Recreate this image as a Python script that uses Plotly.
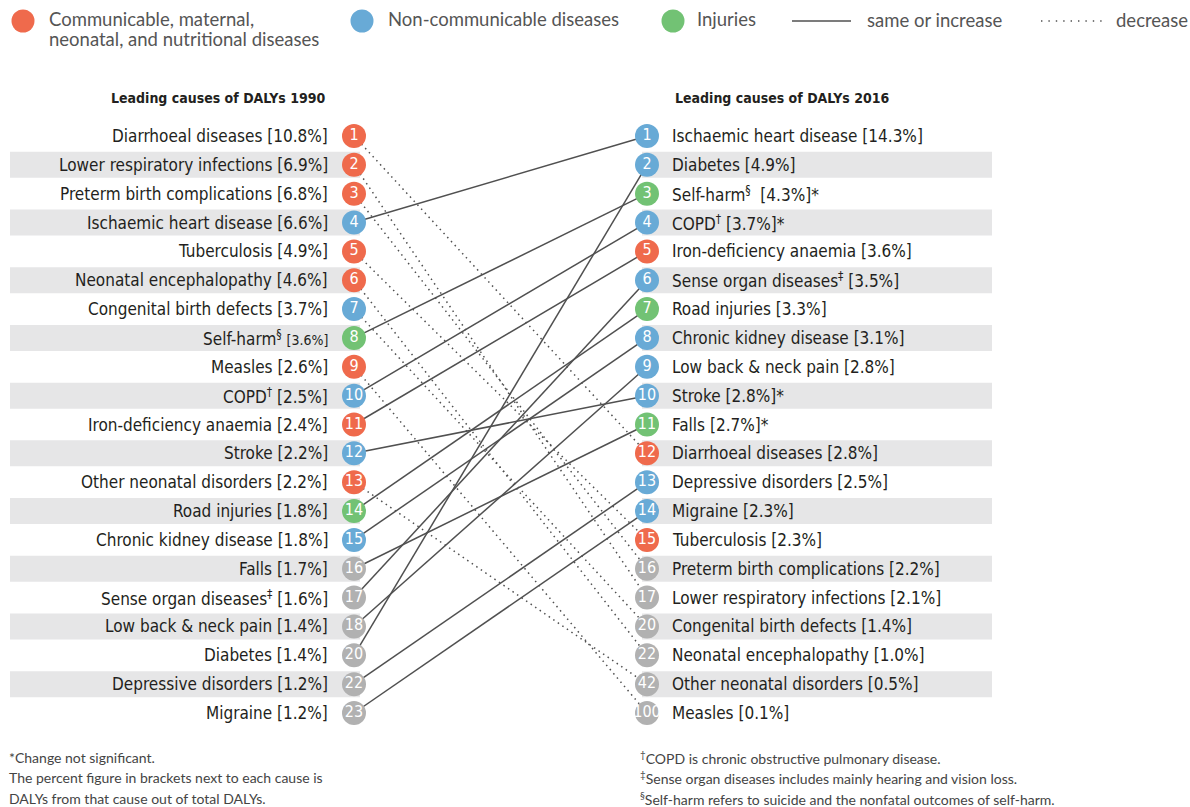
import plotly.graph_objects as go

# ---------------- data ----------------
causes_1990 = ["Diarrhoeal diseases", "Lower respiratory infections", "Preterm birth complications",
               "Ischaemic heart disease", "Tuberculosis", "Neonatal encephalopathy",
               "Congenital birth defects", "Self-harm", "Measles", "COPD",
               "Iron-deficiency anaemia", "Stroke", "Other neonatal disorders", "Road injuries",
               "Chronic kidney disease", "Falls", "Sense organ diseases", "Low back & neck pain",
               "Diabetes", "Depressive disorders", "Migraine"]
pct_1990 = [10.8, 6.9, 6.8, 6.6, 4.9, 4.6, 3.7, 3.6, 2.6, 2.5, 2.4, 2.2, 2.2, 1.8, 1.8, 1.7,
            1.6, 1.4, 1.4, 1.2, 1.2]
rank_1990 = [1, 2, 3, 4, 5, 6, 7, 8, 9, 10, 11, 12, 13, 14, 15, 16, 17, 18, 20, 22, 23]
group_1990 = ["C", "C", "C", "N", "C", "C", "N", "I", "C", "N", "C", "N", "C", "I", "N",
              "I", "N", "N", "N", "N", "N"]

causes_2016 = ["Ischaemic heart disease", "Diabetes", "Self-harm", "COPD", "Iron-deficiency anaemia",
               "Sense organ diseases", "Road injuries", "Chronic kidney disease",
               "Low back & neck pain", "Stroke", "Falls", "Diarrhoeal diseases",
               "Depressive disorders", "Migraine", "Tuberculosis", "Preterm birth complications",
               "Lower respiratory infections", "Congenital birth defects",
               "Neonatal encephalopathy", "Other neonatal disorders", "Measles"]
pct_2016 = [14.3, 4.9, 4.3, 3.7, 3.6, 3.5, 3.3, 3.1, 2.8, 2.8, 2.7, 2.8, 2.5, 2.3, 2.3, 2.2,
            2.1, 1.4, 1.0, 0.5, 0.1]
rank_2016 = [1, 2, 3, 4, 5, 6, 7, 8, 9, 10, 11, 12, 13, 14, 15, 16, 17, 20, 22, 42, 100]
group_2016 = ["N", "N", "I", "N", "C", "N", "I", "N", "N", "N", "I", "C", "N", "N", "C",
              "C", "C", "N", "C", "C", "C"]
not_significant_2016 = ["Self-harm", "COPD", "Stroke", "Falls"]
footnote_marks = {"Self-harm": "§", "COPD": "†", "Sense organ diseases": "‡"}

group_names = {"C": ["Communicable, maternal,", "neonatal, and nutritional diseases"],
               "N": ["Non-communicable diseases"], "I": ["Injuries"]}
line_legend = ["same or increase", "decrease"]
title_1990 = "Leading causes of DALYs 1990"
title_2016 = "Leading causes of DALYs 2016"
notes_left = ["*Change not significant.",
              "The percent figure in brackets next to each cause is",
              "DALYs from that cause out of total DALYs."]
notes_right = ["<sup>†</sup>COPD is chronic obstructive pulmonary disease.",
               "<sup>‡</sup>Sense organ diseases includes mainly hearing and vision loss.",
               "<sup>§</sup>Self-harm refers to suicide and the nonfatal outcomes of self-harm."]

# ---------------- style ----------------
W, H = 1190, 807
colors = {"C": "#EF6A4C", "N": "#68AAD6", "I": "#72C274", "grey": "#B1B1B1"}
band_color = "#E6E6E7"
COND = "Liberation Sans Narrow, DejaVu Sans Condensed, Roboto Condensed, Arial Narrow, sans-serif"
SANS = "Lato, Noto Sans, sans-serif"
ROW0_PX, ROW_STEP = 136, 28.85
XL_CIRC, XR_CIRC = 354, 647
XL_TEXT, XR_TEXT = 330, 670
LINE_COL = "#505050"

def row_of(i):
    return i + 1

def circ_color(rank, grp):
    return colors["grey"] if rank > 15 else colors[grp]

fig = go.Figure()

# bands
shapes = []
for i in range(len(causes_1990)):
    if (i + 1) % 2 == 0:
        shapes.append(dict(type="rect", xref="x", yref="y", x0=10, x1=360,
                           y0=row_of(i) - 0.45, y1=row_of(i) + 0.45,
                           fillcolor=band_color, line_width=0, layer="below"))
for i in range(len(causes_2016)):
    if (i + 1) % 2 == 0:
        shapes.append(dict(type="rect", xref="x", yref="y", x0=642, x1=992,
                           y0=row_of(i) - 0.45, y1=row_of(i) + 0.45,
                           fillcolor=band_color, line_width=0, layer="below"))

# connecting lines
sx, sy, dx, dy = [], [], [], []
for i, c in enumerate(causes_1990):
    j = causes_2016.index(c)
    if rank_2016[j] <= rank_1990[i]:
        sx += [XL_CIRC, XR_CIRC, None]; sy += [row_of(i), row_of(j), None]
    else:
        dx += [XL_CIRC, XR_CIRC, None]; dy += [row_of(i), row_of(j), None]
fig.add_trace(go.Scatter(x=sx, y=sy, mode="lines", line=dict(color=LINE_COL, width=1.5),
                         hoverinfo="skip", showlegend=False))
fig.add_trace(go.Scatter(x=dx, y=dy, mode="lines",
                         line=dict(color=LINE_COL, width=1.5, dash="1.5px,4px"),
                         hoverinfo="skip", showlegend=False))

# circles
for xs, ranks, groups in [(XL_CIRC, rank_1990, group_1990), (XR_CIRC, rank_2016, group_2016)]:
    fig.add_trace(go.Scatter(
        x=[xs] * len(ranks), y=[row_of(i) for i in range(len(ranks))],
        mode="markers+text",
        marker=dict(size=24, color=[circ_color(r, g) for r, g in zip(ranks, groups)], line_width=0),
        text=[str(r) for r in ranks], textposition="middle center",
        textfont=dict(family=COND, size=16, color="white"),
        hoverinfo="skip", showlegend=False))

annotations = []
# labels
for i, c in enumerate(causes_1990):
    mark = f"<sup>{footnote_marks[c]}</sup>" if c in footnote_marks else ""
    pct = f"[{pct_1990[i]}%]"
    if c == "Self-harm":
        pct = f"<span style='font-size:14px'>{pct}</span>"
    annotations.append(dict(x=XL_TEXT, y=row_of(i), xref="x", yref="y", xanchor="right", yanchor="middle",
                            text=f"{c}{mark} {pct}", showarrow=False,
                            font=dict(family=COND, size=17, color="#231F20")))
for i, c in enumerate(causes_2016):
    mark = f"<sup>{footnote_marks[c]}</sup>" if c in footnote_marks else ""
    star = "*" if c in not_significant_2016 else ""
    gap = "  " if c == "Self-harm" else " "
    annotations.append(dict(x=XR_TEXT, y=row_of(i), xref="x", yref="y", xanchor="left", yanchor="middle",
                            text=f"{c}{mark}{gap}[{pct_2016[i]}%]{star}", showarrow=False,
                            font=dict(family=COND, size=17, color="#231F20")))

def px_x(p):
    return p / W

def px_y(p):
    return 1 - p / H

# titles
annotations.append(dict(x=px_x(327), y=px_y(98), xref="paper", yref="paper", xanchor="right",
                        yanchor="middle", text=f"<b>{title_1990}</b>", showarrow=False,
                        font=dict(family=COND, size=14, color="#231F20")))
annotations.append(dict(x=px_x(673), y=px_y(98), xref="paper", yref="paper", xanchor="left",
                        yanchor="middle", text=f"<b>{title_2016}</b>", showarrow=False,
                        font=dict(family=COND, size=14, color="#231F20")))

# legend
leg_items = [("C", 23, 47), ("N", 362, 386), ("I", 673, 695)]
for g, cx, tx in leg_items:
    shapes.append(dict(type="circle", xref="paper", yref="paper", xsizemode="pixel", ysizemode="pixel",
                       xanchor=px_x(cx), yanchor=px_y(21), x0=-11.5, x1=11.5, y0=-11.5, y1=11.5,
                       fillcolor=colors[g], line_width=0))
    for k, t in enumerate(group_names[g]):
        annotations.append(dict(x=px_x(tx), y=px_y(19 + k * 20.5), xref="paper", yref="paper",
                                xanchor="left", yanchor="middle", text=t, showarrow=False,
                                font=dict(family=SANS, size=18.5, color="#555555")))
shapes.append(dict(type="line", xref="paper", yref="paper", x0=px_x(792), x1=px_x(851),
                   y0=px_y(21), y1=px_y(21), line=dict(color=LINE_COL, width=1.5)))
shapes.append(dict(type="line", xref="paper", yref="paper", x0=px_x(1041), x1=px_x(1104),
                   y0=px_y(21), y1=px_y(21), line=dict(color=LINE_COL, width=1.4, dash="1.4px,6px")))
annotations.append(dict(x=px_x(865), y=px_y(20), xref="paper", yref="paper", xanchor="left",
                        yanchor="middle", text=line_legend[0], showarrow=False,
                        font=dict(family=SANS, size=18.5, color="#555555")))
annotations.append(dict(x=px_x(1114), y=px_y(20), xref="paper", yref="paper", xanchor="left",
                        yanchor="middle", text=line_legend[1], showarrow=False,
                        font=dict(family=SANS, size=18.5, color="#555555")))

# footnotes
for k, t in enumerate(notes_left):
    annotations.append(dict(x=px_x(7), y=px_y(757 + k * 20.5), xref="paper", yref="paper", xanchor="left",
                            yanchor="middle", text=t, showarrow=False,
                            font=dict(family=SANS, size=14, color="#444444")))
for k, t in enumerate(notes_right):
    annotations.append(dict(x=px_x(638), y=px_y(757 + k * 20.5), xref="paper", yref="paper", xanchor="left",
                            yanchor="middle", text=t, showarrow=False,
                            font=dict(family=SANS, size=14, color="#444444")))

r_top = 1 - ROW0_PX / ROW_STEP
r_bot = 1 + (H - ROW0_PX) / ROW_STEP
fig.update_layout(
    width=W, height=H, margin=dict(l=0, r=0, t=0, b=0),
    paper_bgcolor="white", plot_bgcolor="white",
    xaxis=dict(range=[0, W], visible=False, fixedrange=True),
    yaxis=dict(range=[r_bot, r_top], visible=False, fixedrange=True),
    shapes=shapes, annotations=annotations, showlegend=False,
)
fig.write_html("out.html", config={"displayModeBar": False},
               post_script="document.body.style.margin='0';document.body.style.overflow='hidden';")
